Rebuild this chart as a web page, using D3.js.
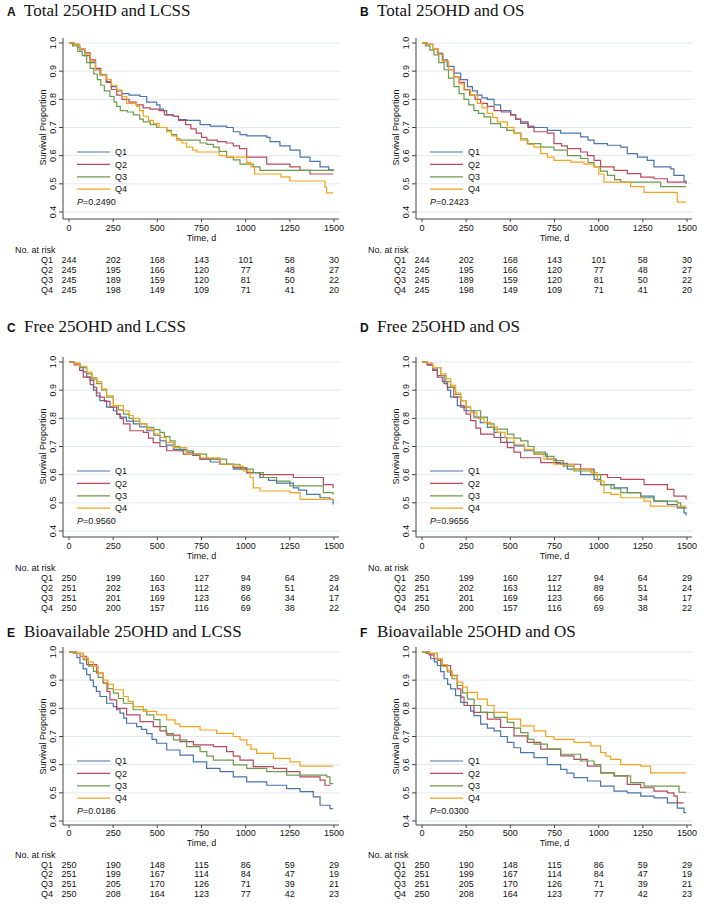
<!DOCTYPE html>
<html><head><meta charset="utf-8">
<script src="https://cdn.jsdelivr.net/npm/d3@7"></script>
<style>body{margin:0;background:#fff} svg{display:block}</style>
</head><body><svg id="c" width="709" height="906"></svg>
<script>
// ---------- data ----------
const groups = ["Q1","Q2","Q3","Q4"];
const timeTicks = [0,250,500,750,1000,1250,1500];
const yTicks = [0.4,0.5,0.6,0.7,0.8,0.9,1.0];
const panelLetters = ["A","B","C","D","E","F"];
const titles = ["Total 25OHD and LCSS","Total 25OHD and OS","Free 25OHD and LCSS","Free 25OHD and OS","Bioavailable 25OHD and LCSS","Bioavailable 25OHD and OS"];
const pValues = ["0.2490","0.2423","0.9560","0.9656","0.0186","0.0300"];

const A_Q1 = [[0,1],[25,0.995],[50,0.985],[62,0.976],[90,0.955],[119,0.93],[150,0.905],[175,0.887],[213,0.863],[240,0.845],[270,0.83],[300,0.82],[340,0.815],[402,0.81],[440,0.79],[496,0.78],[515,0.765],[534,0.76],[553,0.745],[591,0.74],[620,0.728],[666,0.725],[742,0.71],[800,0.705],[892,0.70],[930,0.685],[968,0.675],[1006,0.67],[1119,0.665],[1138,0.65],[1194,0.635],[1251,0.62],[1308,0.595],[1364,0.58],[1421,0.56],[1470,0.55],[1495,0.545]];
const A_Q2 = [[0,1],[30,0.995],[60,0.98],[90,0.965],[120,0.94],[150,0.91],[180,0.885],[210,0.86],[240,0.835],[270,0.815],[300,0.80],[340,0.79],[380,0.78],[420,0.77],[460,0.765],[510,0.76],[540,0.745],[590,0.74],[620,0.725],[660,0.71],[690,0.695],[720,0.68],[750,0.665],[780,0.655],[840,0.65],[890,0.645],[930,0.635],[965,0.625],[1006,0.595],[1081,0.595],[1119,0.57],[1213,0.57],[1251,0.56],[1308,0.548],[1364,0.535],[1495,0.535]];
const A_Q3 = [[0,1],[20,0.99],[50,0.97],[75,0.955],[100,0.93],[120,0.91],[140,0.89],[160,0.87],[180,0.85],[200,0.83],[232,0.81],[255,0.79],[270,0.775],[290,0.76],[330,0.755],[364,0.745],[400,0.73],[421,0.72],[460,0.71],[496,0.70],[553,0.69],[580,0.675],[610,0.66],[628,0.655],[742,0.645],[780,0.64],[817,0.63],[850,0.615],[892,0.595],[930,0.585],[968,0.57],[1010,0.57],[1043,0.56],[1081,0.548],[1495,0.548]];
const A_Q4 = [[0,1],[30,0.995],[60,0.98],[90,0.96],[120,0.935],[150,0.905],[180,0.885],[213,0.87],[240,0.85],[270,0.833],[300,0.81],[326,0.786],[383,0.775],[400,0.76],[421,0.74],[450,0.725],[477,0.714],[510,0.70],[553,0.685],[580,0.67],[609,0.655],[640,0.645],[666,0.63],[700,0.62],[723,0.613],[817,0.613],[850,0.60],[892,0.595],[968,0.595],[1006,0.575],[1030,0.56],[1050,0.535],[1175,0.535],[1200,0.525],[1251,0.51],[1430,0.51],[1449,0.488],[1458,0.468],[1495,0.468]];

const B_Q1 = [[0,1],[30,0.995],[60,0.98],[87,0.964],[115,0.94],[143,0.917],[181,0.893],[219,0.87],[257,0.845],[285,0.83],[313,0.815],[340,0.805],[370,0.80],[408,0.78],[445,0.76],[502,0.745],[530,0.73],[558,0.715],[600,0.705],[634,0.70],[709,0.69],[785,0.68],[898,0.667],[940,0.655],[974,0.643],[1049,0.637],[1125,0.63],[1162,0.607],[1219,0.595],[1275,0.583],[1313,0.56],[1408,0.553],[1426,0.53],[1483,0.51],[1495,0.50]];
const B_Q2 = [[0,1],[30,0.995],[60,0.98],[90,0.96],[120,0.935],[150,0.905],[180,0.88],[210,0.86],[240,0.835],[270,0.815],[300,0.80],[332,0.786],[370,0.775],[408,0.76],[450,0.755],[502,0.745],[530,0.73],[558,0.72],[600,0.70],[634,0.685],[709,0.68],[747,0.643],[790,0.635],[823,0.625],[898,0.613],[936,0.60],[974,0.583],[1011,0.56],[1087,0.548],[1162,0.536],[1238,0.524],[1313,0.518],[1389,0.506],[1495,0.506]];
const B_Q3 = [[0,1],[20,0.99],[45,0.975],[68,0.958],[95,0.93],[125,0.905],[150,0.875],[181,0.845],[210,0.82],[238,0.80],[265,0.78],[294,0.76],[320,0.75],[351,0.738],[389,0.714],[445,0.70],[480,0.69],[521,0.68],[560,0.66],[596,0.643],[672,0.63],[747,0.62],[823,0.60],[898,0.59],[940,0.575],[974,0.56],[1010,0.545],[1049,0.53],[1090,0.515],[1125,0.506],[1313,0.506],[1351,0.49],[1495,0.49]];
const B_Q4 = [[0,1],[30,0.995],[60,0.98],[90,0.96],[120,0.935],[150,0.905],[180,0.88],[210,0.855],[238,0.833],[275,0.815],[313,0.786],[340,0.77],[370,0.75],[400,0.735],[426,0.72],[483,0.70],[520,0.68],[558,0.655],[600,0.64],[634,0.63],[672,0.607],[710,0.595],[747,0.583],[842,0.577],[917,0.57],[974,0.56],[1000,0.535],[1030,0.506],[1125,0.506],[1181,0.49],[1257,0.47],[1426,0.47],[1445,0.435],[1495,0.435]];

const C_Q1 = [[0,1],[30,0.995],[62,0.982],[80,0.965],[100,0.946],[120,0.92],[138,0.90],[155,0.88],[175,0.863],[213,0.84],[251,0.827],[270,0.815],[289,0.804],[325,0.79],[364,0.78],[400,0.77],[440,0.756],[480,0.74],[515,0.72],[550,0.705],[591,0.69],[666,0.68],[700,0.668],[742,0.655],[800,0.645],[855,0.637],[930,0.62],[1006,0.607],[1081,0.59],[1130,0.58],[1175,0.57],[1270,0.553],[1300,0.545],[1345,0.53],[1421,0.518],[1477,0.512],[1495,0.494]];
const C_Q2 = [[0,1],[30,0.99],[60,0.97],[81,0.946],[119,0.935],[140,0.91],[157,0.89],[175,0.875],[200,0.86],[232,0.84],[270,0.815],[290,0.80],[308,0.78],[345,0.756],[421,0.75],[450,0.73],[477,0.714],[515,0.70],[553,0.685],[647,0.673],[742,0.655],[855,0.637],[930,0.625],[1006,0.607],[1081,0.60],[1251,0.60],[1270,0.59],[1421,0.59],[1440,0.565],[1495,0.553]];
const C_Q3 = [[0,1],[30,0.995],[60,0.98],[100,0.958],[130,0.94],[157,0.923],[185,0.90],[213,0.875],[251,0.845],[280,0.83],[308,0.815],[340,0.80],[364,0.79],[400,0.78],[440,0.768],[480,0.76],[515,0.75],[540,0.735],[572,0.72],[600,0.70],[628,0.685],[704,0.673],[779,0.655],[892,0.637],[968,0.62],[1043,0.607],[1100,0.59],[1175,0.577],[1251,0.56],[1421,0.56],[1440,0.536],[1495,0.53]];
const C_Q4 = [[0,1],[30,0.995],[60,0.985],[100,0.964],[130,0.945],[157,0.93],[185,0.905],[213,0.88],[251,0.845],[308,0.827],[340,0.81],[364,0.80],[400,0.78],[440,0.762],[480,0.745],[515,0.732],[550,0.715],[591,0.696],[666,0.673],[742,0.66],[855,0.637],[930,0.63],[987,0.613],[1025,0.59],[1043,0.553],[1081,0.542],[1251,0.536],[1308,0.512],[1495,0.512]];

const D_Q1 = [[0,1],[30,0.99],[60,0.975],[87,0.952],[125,0.923],[145,0.90],[162,0.875],[200,0.845],[238,0.827],[294,0.804],[330,0.785],[370,0.768],[408,0.75],[445,0.732],[480,0.715],[521,0.702],[580,0.685],[634,0.673],[709,0.655],[760,0.64],[823,0.62],[898,0.60],[974,0.583],[1011,0.565],[1087,0.553],[1162,0.536],[1238,0.524],[1313,0.506],[1389,0.494],[1445,0.482],[1483,0.464],[1495,0.455]];
const D_Q2 = [[0,1],[30,0.99],[60,0.97],[87,0.946],[115,0.93],[143,0.91],[180,0.875],[219,0.84],[250,0.815],[275,0.792],[305,0.765],[332,0.744],[408,0.732],[445,0.715],[483,0.696],[520,0.68],[558,0.66],[672,0.643],[785,0.637],[898,0.62],[974,0.60],[1050,0.59],[1125,0.583],[1257,0.565],[1389,0.548],[1426,0.524],[1495,0.512]];
const D_Q3 = [[0,1],[30,0.995],[60,0.98],[106,0.952],[135,0.93],[162,0.91],[190,0.885],[219,0.863],[250,0.84],[275,0.827],[332,0.804],[370,0.78],[408,0.762],[483,0.744],[520,0.73],[558,0.72],[600,0.70],[634,0.68],[700,0.665],[747,0.65],[800,0.63],[860,0.613],[974,0.60],[1011,0.565],[1070,0.55],[1125,0.536],[1238,0.518],[1313,0.506],[1445,0.50],[1464,0.482],[1495,0.478]];
const D_Q4 = [[0,1],[30,0.995],[60,0.98],[106,0.958],[135,0.94],[162,0.917],[190,0.89],[219,0.863],[250,0.84],[275,0.82],[310,0.80],[351,0.786],[390,0.77],[426,0.75],[470,0.73],[521,0.708],[580,0.69],[634,0.673],[690,0.655],[747,0.637],[860,0.62],[955,0.607],[992,0.577],[1030,0.536],[1068,0.53],[1125,0.518],[1257,0.506],[1294,0.488],[1495,0.488]];

const E_Q1 = [[0,1],[25,0.996],[45,0.98],[62,0.96],[80,0.94],[100,0.92],[120,0.9],[138,0.877],[155,0.86],[175,0.842],[213,0.818],[251,0.806],[270,0.795],[289,0.783],[310,0.765],[326,0.747],[383,0.735],[410,0.725],[440,0.71],[470,0.69],[496,0.676],[553,0.652],[628,0.634],[704,0.61],[779,0.587],[855,0.575],[930,0.557],[1006,0.539],[1119,0.527],[1232,0.515],[1308,0.504],[1383,0.486],[1421,0.456],[1477,0.444],[1495,0.444]];
const E_Q2 = [[0,1],[40,0.995],[62,0.985],[100,0.955],[157,0.925],[194,0.89],[215,0.86],[232,0.83],[270,0.80],[326,0.777],[402,0.753],[477,0.735],[515,0.72],[553,0.705],[628,0.682],[704,0.67],[817,0.664],[892,0.646],[930,0.63],[968,0.616],[1043,0.593],[1157,0.587],[1232,0.575],[1308,0.557],[1421,0.545],[1449,0.527],[1480,0.527]];
const E_Q3 = [[0,1],[40,0.995],[81,0.973],[110,0.95],[138,0.931],[165,0.91],[194,0.89],[220,0.87],[251,0.854],[280,0.835],[308,0.818],[364,0.795],[440,0.777],[480,0.76],[515,0.735],[550,0.71],[591,0.688],[666,0.664],[742,0.646],[780,0.63],[817,0.616],[930,0.599],[1006,0.587],[1119,0.575],[1232,0.563],[1458,0.557],[1477,0.533],[1495,0.533]];
const E_Q4 = [[0,1],[40,0.995],[81,0.979],[110,0.965],[138,0.949],[165,0.925],[194,0.90],[220,0.885],[251,0.866],[308,0.842],[335,0.825],[364,0.806],[421,0.789],[496,0.777],[553,0.759],[600,0.745],[628,0.735],[742,0.723],[836,0.711],[930,0.70],[968,0.688],[1006,0.67],[1030,0.655],[1062,0.64],[1157,0.622],[1251,0.61],[1308,0.595],[1495,0.595]];

const F_Q1 = [[0,1],[25,0.995],[49,0.976],[70,0.965],[87,0.952],[105,0.93],[125,0.905],[145,0.885],[162,0.869],[190,0.845],[219,0.821],[257,0.81],[275,0.79],[294,0.774],[332,0.744],[370,0.73],[408,0.72],[445,0.70],[483,0.679],[520,0.66],[558,0.643],[634,0.625],[709,0.60],[785,0.583],[820,0.57],[860,0.554],[936,0.542],[1011,0.524],[1087,0.506],[1162,0.50],[1238,0.488],[1313,0.482],[1389,0.464],[1445,0.446],[1483,0.43],[1495,0.43]];
const F_Q2 = [[0,1],[40,0.99],[68,0.976],[106,0.952],[162,0.917],[200,0.869],[220,0.84],[238,0.81],[294,0.786],[370,0.762],[445,0.732],[521,0.702],[596,0.679],[672,0.655],[785,0.631],[860,0.619],[936,0.595],[1011,0.571],[1087,0.56],[1162,0.53],[1238,0.518],[1313,0.506],[1389,0.50],[1426,0.488],[1445,0.464],[1480,0.464]];
const F_Q3 = [[0,1],[40,0.995],[87,0.97],[115,0.95],[143,0.929],[170,0.905],[200,0.881],[230,0.855],[257,0.833],[295,0.81],[332,0.786],[408,0.768],[483,0.75],[520,0.73],[558,0.714],[600,0.69],[634,0.673],[709,0.655],[785,0.637],[898,0.613],[974,0.60],[1011,0.571],[1087,0.56],[1181,0.536],[1257,0.524],[1445,0.524],[1455,0.502],[1495,0.502]];
const F_Q4 = [[0,1],[40,0.995],[87,0.976],[115,0.955],[143,0.935],[170,0.915],[200,0.893],[230,0.875],[257,0.857],[313,0.833],[370,0.81],[408,0.786],[483,0.762],[558,0.738],[634,0.72],[700,0.70],[747,0.69],[860,0.679],[955,0.667],[1011,0.643],[1040,0.63],[1068,0.619],[1125,0.60],[1238,0.595],[1294,0.571],[1495,0.571]];

const riskTotal_Q1 = [244,202,168,143,101,58,30];
const riskTotal_Q2 = [245,195,166,120,77,48,27];
const riskTotal_Q3 = [245,189,159,120,81,50,22];
const riskTotal_Q4 = [245,198,149,109,71,41,20];
const riskFree_Q1 = [250,199,160,127,94,64,29];
const riskFree_Q2 = [251,202,163,112,89,51,24];
const riskFree_Q3 = [251,201,169,123,66,34,17];
const riskFree_Q4 = [250,200,157,116,69,38,22];
const riskBio_Q1 = [250,190,148,115,86,59,29];
const riskBio_Q2 = [251,199,167,114,84,47,19];
const riskBio_Q3 = [251,205,170,126,71,39,21];
const riskBio_Q4 = [250,208,164,123,77,42,23];

// ---------- styles / layout ----------
const colors = ["#4a74ad","#b84a5c","#6c9a4b","#f5a21d"];
const SANS = "'Liberation Sans', Arial, sans-serif";
const SERIF = "'Liberation Serif', 'Times New Roman', serif";

const panelSeries = [
  [A_Q1,A_Q2,A_Q3,A_Q4],[B_Q1,B_Q2,B_Q3,B_Q4],
  [C_Q1,C_Q2,C_Q3,C_Q4],[D_Q1,D_Q2,D_Q3,D_Q4],
  [E_Q1,E_Q2,E_Q3,E_Q4],[F_Q1,F_Q2,F_Q3,F_Q4]
];
const riskTotal = [riskTotal_Q1,riskTotal_Q2,riskTotal_Q3,riskTotal_Q4];
const riskFree = [riskFree_Q1,riskFree_Q2,riskFree_Q3,riskFree_Q4];
const riskBio = [riskBio_Q1,riskBio_Q2,riskBio_Q3,riskBio_Q4];
const panelRisk = [riskTotal,riskTotal,riskFree,riskFree,riskBio,riskBio];

const rowGeom = [
  {titleB:16,  y1:43,  axis:219, tickB:230.8, timeB:241, narB:252.5, rowB:262.5, step:10},
  {titleB:332, y1:362, axis:537, tickB:549,   timeB:559.2, narB:570.5, rowB:580.5, step:10},
  {titleB:637, y1:652, axis:825, tickB:835.5, timeB:845.7, narB:857.5, rowB:867.5, step:9.9}
];
const colX = [0, 353];

const svg = d3.select("#c");
svg.append("rect").attr("width",709).attr("height",906).attr("fill","#fff");

panelSeries.forEach((series, i) => {
  const row = Math.floor(i/2), col = i%2;
  const g = rowGeom[row], ox = colX[col];
  const x = d3.scaleLinear().domain([0,1500]).range([ox+69, ox+334]);
  const y = d3.scaleLinear().domain([0.4,1.0]).range([g.y1+169, g.y1]);
  const axX = ox+63, gridRight = ox+340;
  const p = svg.append("g");

  // title
  p.append("text").attr("x", ox+7).attr("y", g.titleB).text(panelLetters[i])
    .attr("font-family", SANS).attr("font-weight","bold").attr("font-size", 12).attr("fill","#111");
  p.append("text").attr("x", ox+24).attr("y", g.titleB)
    .attr("font-family", SERIF).attr("font-size", 17).attr("fill","#111").text(titles[i]);

  // gridlines
  p.selectAll(".grid").data(yTicks).join("line")
    .attr("x1", axX).attr("x2", gridRight)
    .attr("y1", d=>y(d)).attr("y2", d=>y(d))
    .attr("stroke","#e2eaf0").attr("stroke-width",1);

  // y axis
  p.append("line").attr("x1",axX).attr("x2",axX).attr("y1",g.y1-5).attr("y2",g.axis)
    .attr("stroke","#444").attr("stroke-width",1);
  p.selectAll(".yt").data(yTicks).join("line")
    .attr("x1",axX-4).attr("x2",axX).attr("y1",d=>y(d)).attr("y2",d=>y(d))
    .attr("stroke","#444");
  p.selectAll(".yl").data(yTicks).join("text")
    .attr("transform", d=>`translate(${ox+56},${y(d)}) rotate(-90)`)
    .attr("text-anchor","middle").attr("font-family",SANS).attr("font-size",9).attr("fill","#111")
    .text(d=>d3.format(".1f")(d));
  p.append("text")
    .attr("transform", `translate(${ox+46},${(y(1.0)+y(0.4))/2}) rotate(-90)`)
    .attr("text-anchor","middle").attr("font-family",SANS).attr("font-size",9).attr("fill","#111")
    .text("Survival Proportion");

  // x axis
  p.append("line").attr("x1",axX).attr("x2",ox+339).attr("y1",g.axis).attr("y2",g.axis)
    .attr("stroke","#444");
  p.selectAll(".xt").data(timeTicks).join("line")
    .attr("x1",d=>x(d)).attr("x2",d=>x(d)).attr("y1",g.axis).attr("y2",g.axis+3)
    .attr("stroke","#444");
  p.selectAll(".xl").data(timeTicks).join("text")
    .attr("x",d=>x(d)).attr("y",g.tickB).attr("text-anchor","middle")
    .attr("font-family",SANS).attr("font-size",9).attr("fill","#111").text(d=>d);
  p.append("text").attr("x",x(750)).attr("y",g.timeB).attr("text-anchor","middle")
    .attr("font-family",SANS).attr("font-size",9).attr("fill","#111").text("Time, d");

  // curves
  const line = d3.line().x(d=>x(d[0])).y(d=>y(d[1])).curve(d3.curveStepAfter);
  series.forEach((s, k) => {
    p.append("path").datum(s).attr("d", line).attr("fill","none")
      .attr("stroke", colors[k]).attr("stroke-width",1.2);
  });

  // legend
  groups.forEach((q, k) => {
    const ly = g.y1 + 109 + k*12.4;
    p.append("line").attr("x1",ox+77).attr("x2",ox+110).attr("y1",ly).attr("y2",ly)
      .attr("stroke",colors[k]).attr("stroke-width",1.2);
    p.append("text").attr("x",ox+115).attr("y",ly+3.2)
      .attr("font-family",SANS).attr("font-size",9).attr("fill","#111").text(q);
  });
  const pt = p.append("text").attr("x",ox+77).attr("y",g.y1+162)
    .attr("font-family",SANS).attr("font-size",9).attr("fill","#111");
  pt.append("tspan").attr("font-style","italic").text("P");
  pt.append("tspan").text("=" + pValues[i]);

  // risk table
  p.append("text").attr("x",ox+15).attr("y",g.narB)
    .attr("font-family",SANS).attr("font-size",9).attr("fill","#111").text("No. at risk");
  panelRisk[i].forEach((vals, k) => {
    const ry = g.rowB + k*g.step;
    p.append("text").attr("x",ox+53).attr("y",ry).attr("text-anchor","end")
      .attr("font-family",SANS).attr("font-size",9).attr("fill","#111").text(groups[k]);
    p.selectAll(null).data(vals).join("text")
      .attr("x",(d,j)=>x(timeTicks[j])).attr("y",ry).attr("text-anchor","middle")
      .attr("font-family",SANS).attr("font-size",9).attr("fill","#111").text(d=>d);
  });
});
</script>
</body></html>
